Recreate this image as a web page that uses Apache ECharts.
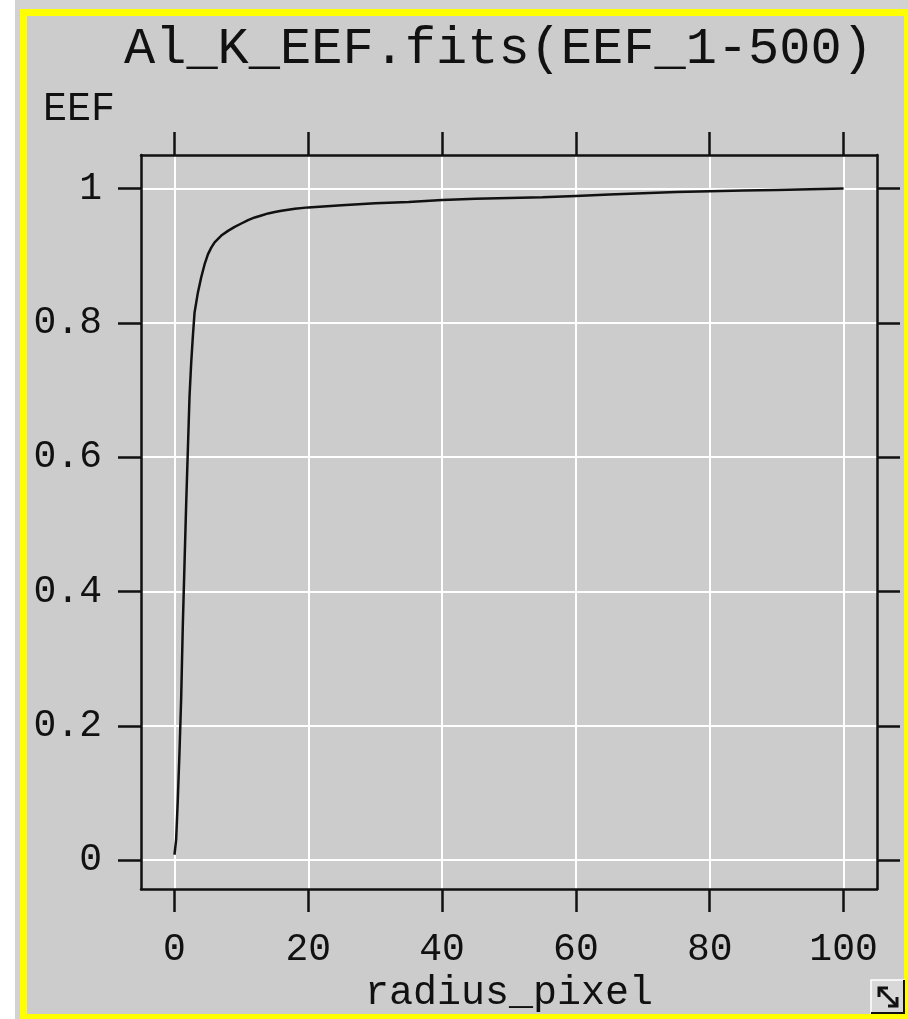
<!DOCTYPE html>
<html>
<head>
<meta charset="utf-8">
<script src="https://cdn.jsdelivr.net/npm/echarts@6/dist/echarts.min.js"></script>
<style>
  html, body { margin: 0; padding: 0; background: #ffffff; }
  #chart { width: 908px; height: 1019px; }
</style>
</head>
<body>
<div id="chart"></div>
<script>
// Encircled energy fraction versus radius (pixels)
const radius = [0, 0.25, 0.5, 0.75, 1.0, 1.25, 1.5, 1.75, 2.0, 2.25, 2.5, 2.75, 3.0, 3.5, 4.0, 4.5, 5, 5.5, 6, 7, 8, 9, 10, 11, 12, 13, 14, 15, 16, 18, 20, 25, 30, 35, 40, 45, 50, 55, 60, 65, 70, 75, 80, 85, 90, 95, 100];
const eef = [0.008, 0.03, 0.09, 0.16, 0.24, 0.35, 0.44, 0.53, 0.61, 0.69, 0.74, 0.78, 0.815, 0.845, 0.868, 0.887, 0.902, 0.912, 0.920, 0.930, 0.937, 0.943, 0.948, 0.953, 0.957, 0.960, 0.963, 0.965, 0.967, 0.970, 0.972, 0.975, 0.978, 0.980, 0.983, 0.985, 0.986, 0.987, 0.989, 0.991, 0.993, 0.995, 0.996, 0.997, 0.998, 0.999, 1.0];

const xTicks = [0, 20, 40, 60, 80, 100];
const yTicks = [0, 0.2, 0.4, 0.6, 0.8, 1];

const titleText = 'Al_K_EEF.fits(EEF_1-500)';
const xName = 'radius_pixel';
const yName = 'EEF';

const FONT = 'Liberation Mono, Courier New, monospace';
const INK = '#111111';
const TICK = { show: true, inside: false, length: 23, lineStyle: { color: '#111', width: 2.5 } };
const AXLINE = { show: true, onZero: false, lineStyle: { color: '#111', width: 2.5 } };

const chart = echarts.init(document.getElementById('chart'), null, { renderer: 'canvas' });

chart.setOption({
  animation: false,
  backgroundColor: 'transparent',
  title: {
    text: titleText,
    left: 124,
    top: 23,
    padding: 0,
    textStyle: { fontFamily: FONT, fontSize: 52, fontWeight: 'normal', color: INK }
  },
  grid: { left: 141, right: 31, top: 155, bottom: 130, containLabel: false, show: false },
  xAxis: [
    {
      type: 'value', position: 'bottom', min: -5, max: 105,
      name: xName, nameLocation: 'middle', nameGap: 84,
      nameTextStyle: { fontFamily: FONT, fontSize: 40, color: INK },
      axisLine: AXLINE,
      axisTick: Object.assign({ customValues: xTicks }, TICK),
      axisLabel: { customValues: xTicks, margin: 42, fontFamily: FONT, fontSize: 38, color: INK },
      splitLine: { show: true, lineStyle: { color: '#ffffff', width: 2 } }
    },
    {
      type: 'value', position: 'top', min: -5, max: 105,
      axisLine: AXLINE,
      axisTick: Object.assign({ customValues: xTicks }, TICK),
      axisLabel: { show: false },
      splitLine: { show: false }
    }
  ],
  yAxis: [
    {
      type: 'value', position: 'left', min: -0.043, max: 1.05,
      name: yName, nameLocation: 'end', nameGap: 26,
      nameTextStyle: { fontFamily: FONT, fontSize: 40, color: INK, align: 'right', padding: [0, 26, 0, 0] },
      axisLine: AXLINE,
      axisTick: Object.assign({ customValues: yTicks }, TICK),
      axisLabel: { customValues: yTicks, margin: 39, fontFamily: FONT, fontSize: 38, color: INK },
      splitLine: { show: true, lineStyle: { color: '#ffffff', width: 2 } }
    },
    {
      type: 'value', position: 'right', min: -0.043, max: 1.05,
      axisLine: AXLINE,
      axisTick: Object.assign({ customValues: yTicks }, TICK),
      axisLabel: { show: false },
      splitLine: { show: false }
    }
  ],
  series: [
    {
      type: 'line',
      data: radius.map((r, i) => [r, eef[i]]),
      showSymbol: false,
      symbol: 'none',
      smooth: false,
      lineStyle: { color: '#111', width: 2.5 },
      z: 3
    }
  ],
  graphic: [
    // panel background and yellow frame
    { type: 'rect', z: -20, silent: true, shape: { x: 15, y: 0, width: 893, height: 1019 }, style: { fill: '#d2d2d2' } },
    { type: 'rect', z: -19, silent: true, shape: { x: 20, y: 9, width: 888, height: 1010 }, style: { fill: '#cccccc' } },
    { type: 'rect', z: -18, silent: true, shape: { x: 20, y: 9, width: 7, height: 1010 }, style: { fill: '#ffff00' } },
    { type: 'rect', z: -18, silent: true, shape: { x: 20, y: 9, width: 888, height: 7 }, style: { fill: '#ffff00' } },
    { type: 'rect', z: -18, silent: true, shape: { x: 904, y: 9, width: 4, height: 1010 }, style: { fill: '#ffff00' } },
    { type: 'rect', z: -18, silent: true, shape: { x: 20, y: 1014, width: 888, height: 5 }, style: { fill: '#ffff00' } },
    // resize handle in the lower-right corner
    { type: 'rect', z: 10, silent: true, shape: { x: 871, y: 980, width: 33, height: 33 }, style: { fill: '#d8d8d8', stroke: '#ffffff', lineWidth: 1.5 } },
    { type: 'polyline', z: 11, silent: true, shape: { points: [[871, 1013], [904, 1013], [904, 980]] }, style: { stroke: '#111', lineWidth: 2, fill: null } },
    { type: 'line', z: 11, silent: true, shape: { x1: 879, y1: 988, x2: 897, y2: 1006 }, style: { stroke: '#111', lineWidth: 3 } },
    { type: 'polyline', z: 11, silent: true, shape: { points: [[879, 997], [879, 988], [888, 988]] }, style: { stroke: '#111', lineWidth: 3, fill: null } },
    { type: 'polyline', z: 11, silent: true, shape: { points: [[888, 1006], [897, 1006], [897, 997]] }, style: { stroke: '#111', lineWidth: 3, fill: null } }
  ]
});
</script>
</body>
</html>
